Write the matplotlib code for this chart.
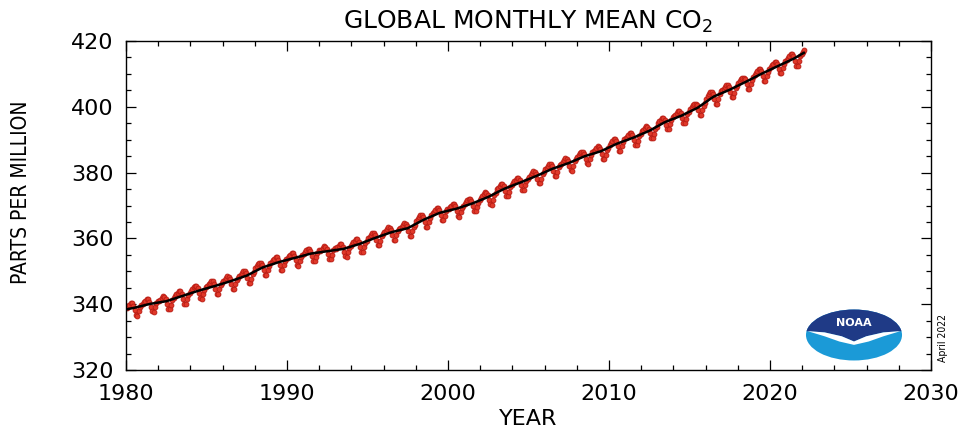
import matplotlib
matplotlib.use("Agg")
import matplotlib.pyplot as plt
import numpy as np
from matplotlib.patches import Ellipse, Polygon
from matplotlib.ticker import MultipleLocator

plt.rcParams['font.family'] = ['DejaVu Sans']

# Global monthly mean CO2 (ppm), starting January 1980
start_year = 1980
co2_monthly = [
    338.9, 339.4, 339.9, 340.4, 340.3, 339.6, 338.1, 336.6, 336.5, 337.9, 339.2, 339.9,  # 1980
    340.1, 340.6, 341.1, 341.6, 341.5, 340.8, 339.3, 337.8, 337.7, 339.1, 340.4, 341.1,  # 1981
    340.9, 341.4, 341.9, 342.4, 342.3, 341.6, 340.1, 338.6, 338.5, 339.9, 341.2, 341.9,  # 1982
    342.5, 343.0, 343.5, 344.0, 343.9, 343.2, 341.7, 340.2, 340.1, 341.5, 342.8, 343.5,  # 1983
    344.1, 344.6, 345.1, 345.6, 345.5, 344.8, 343.3, 341.8, 341.7, 343.1, 344.4, 345.1,  # 1984
    345.5, 346.0, 346.5, 347.0, 346.9, 346.2, 344.7, 343.2, 343.1, 344.5, 345.8, 346.5,  # 1985
    347.0, 347.5, 348.0, 348.5, 348.4, 347.7, 346.2, 344.7, 344.6, 346.0, 347.3, 348.0,  # 1986
    348.5, 349.0, 349.6, 350.1, 350.0, 349.4, 347.9, 346.5, 346.4, 347.8, 349.2, 349.9,  # 1987
    351.0, 351.5, 352.1, 352.6, 352.5, 351.9, 350.4, 349.0, 348.9, 350.3, 351.7, 352.4,  # 1988
    352.8, 353.3, 353.8, 354.3, 354.2, 353.5, 352.0, 350.5, 350.4, 351.8, 353.1, 353.8,  # 1989
    354.1, 354.6, 355.1, 355.6, 355.5, 354.8, 353.3, 351.8, 351.7, 353.1, 354.4, 355.1,  # 1990
    355.4, 355.9, 356.4, 356.9, 356.8, 356.1, 354.6, 353.1, 353.0, 354.4, 355.7, 356.4,  # 1991
    356.1, 356.6, 357.1, 357.6, 357.5, 356.8, 355.3, 353.8, 353.7, 355.1, 356.4, 357.1,  # 1992
    356.8, 357.3, 357.8, 358.3, 358.2, 357.5, 356.0, 354.5, 354.4, 355.8, 357.1, 357.8,  # 1993
    358.3, 358.8, 359.3, 359.8, 359.7, 359.0, 357.5, 356.0, 355.9, 357.3, 358.6, 359.3,  # 1994
    360.0, 360.5, 361.1, 361.6, 361.5, 360.9, 359.4, 358.0, 357.9, 359.3, 360.7, 361.4,  # 1995
    361.9, 362.4, 362.9, 363.4, 363.3, 362.6, 361.1, 359.6, 359.5, 360.9, 362.2, 362.9,  # 1996
    363.1, 363.6, 364.1, 364.6, 364.5, 363.8, 362.3, 360.8, 360.7, 362.1, 363.4, 364.1,  # 1997
    365.3, 365.9, 366.4, 367.0, 367.0, 366.4, 364.9, 363.5, 363.5, 365.0, 366.3, 367.1,  # 1998
    367.6, 368.1, 368.7, 369.2, 369.1, 368.5, 367.0, 365.6, 365.5, 366.9, 368.3, 369.0,  # 1999
    369.0, 369.5, 370.0, 370.5, 370.4, 369.7, 368.2, 366.7, 366.6, 368.0, 369.3, 370.0,  # 2000
    370.6, 371.1, 371.6, 372.1, 372.0, 371.3, 369.8, 368.3, 368.2, 369.6, 370.9, 371.6,  # 2001
    372.4, 372.9, 373.5, 374.0, 373.9, 373.3, 371.8, 370.4, 370.3, 371.7, 373.1, 373.8,  # 2002
    374.9, 375.4, 376.0, 376.5, 376.4, 375.8, 374.3, 372.9, 372.8, 374.2, 375.6, 376.3,  # 2003
    376.8, 377.3, 377.9, 378.4, 378.3, 377.7, 376.2, 374.8, 374.7, 376.1, 377.5, 378.2,  # 2004
    378.8, 379.3, 379.9, 380.4, 380.3, 379.7, 378.2, 376.8, 376.7, 378.1, 379.5, 380.2,  # 2005
    381.0, 381.5, 382.1, 382.6, 382.5, 381.9, 380.4, 379.0, 378.9, 380.3, 381.7, 382.4,  # 2006
    382.7, 383.2, 383.8, 384.3, 384.2, 383.6, 382.1, 380.7, 380.6, 382.0, 383.4, 384.1,  # 2007
    384.8, 385.3, 385.9, 386.4, 386.3, 385.7, 384.2, 382.8, 382.7, 384.1, 385.5, 386.2,  # 2008
    386.5, 387.0, 387.5, 388.0, 387.9, 387.2, 385.7, 384.2, 384.1, 385.5, 386.8, 387.5,  # 2009
    388.4, 389.0, 389.5, 390.1, 390.1, 389.5, 388.0, 386.6, 386.6, 388.1, 389.4, 390.2,  # 2010
    390.4, 390.9, 391.5, 392.0, 391.9, 391.3, 389.8, 388.4, 388.3, 389.7, 391.1, 391.8,  # 2011
    392.5, 393.0, 393.6, 394.1, 394.0, 393.4, 391.9, 390.5, 390.4, 391.8, 393.2, 393.9,  # 2012
    395.0, 395.6, 396.1, 396.7, 396.7, 396.1, 394.6, 393.2, 393.2, 394.7, 396.0, 396.8,  # 2013
    397.1, 397.6, 398.2, 398.7, 398.6, 398.0, 396.5, 395.1, 395.0, 396.4, 397.8, 398.5,  # 2014
    399.3, 399.9, 400.4, 401.0, 401.0, 400.4, 398.9, 397.5, 397.5, 399.0, 400.3, 401.1,  # 2015
    402.5, 403.2, 403.8, 404.4, 404.4, 403.8, 402.3, 400.9, 401.0, 402.5, 403.9, 404.7,  # 2016
    405.0, 405.5, 406.1, 406.6, 406.5, 405.9, 404.4, 403.0, 402.9, 404.3, 405.7, 406.4,  # 2017
    407.2, 407.8, 408.3, 408.9, 408.9, 408.3, 406.8, 405.4, 405.4, 406.9, 408.2, 409.0,  # 2018
    409.7, 410.3, 410.8, 411.4, 411.4, 410.8, 409.3, 407.9, 407.9, 409.4, 410.7, 411.5,  # 2019
    412.0, 412.6, 413.1, 413.7, 413.7, 413.1, 411.6, 410.2, 410.2, 411.7, 413.0, 413.8,  # 2020
    414.3, 414.9, 415.4, 416.0, 416.0, 415.4, 413.9, 412.5, 412.5, 414.0, 415.3, 416.1,  # 2021
    416.6, 417.2,                                                                        # 2022
]

# Seasonally corrected trend (ppm)
trend_years = [1980.0, 1980.5, 1981.5, 1982.5, 1983.5, 1984.5, 1985.5, 1986.5, 1987.5, 1988.5,
               1989.5, 1990.5, 1991.5, 1992.5, 1993.5, 1994.5, 1995.5, 1996.5, 1997.5, 1998.5,
               1999.5, 2000.5, 2001.5, 2002.5, 2003.5, 2004.5, 2005.5, 2006.5, 2007.5, 2008.5,
               2009.5, 2010.5, 2011.5, 2012.5, 2013.5, 2014.5, 2015.5, 2016.5, 2017.5, 2018.5,
               2019.5, 2020.5, 2021.5, 2022.1]
trend_values = [338.4, 338.9, 340.1, 340.9, 342.5, 344.1, 345.5, 347.0, 348.7, 351.2,
                352.8, 354.1, 355.4, 356.1, 356.8, 358.3, 360.2, 361.9, 363.1, 365.7,
                367.8, 369.0, 370.6, 372.6, 375.1, 377.0, 379.0, 381.2, 382.9, 385.0,
                386.5, 388.8, 390.6, 392.7, 395.4, 397.3, 399.7, 403.1, 405.2, 407.6,
                410.1, 412.4, 414.7, 416.4]

x_ticks = [1980, 1990, 2000, 2010, 2020, 2030]
y_ticks = [320, 340, 360, 380, 400, 420]

months = start_year + (np.arange(len(co2_monthly)) + 0.5) / 12.0

fig = plt.figure(figsize=(9.64, 4.29), dpi=100)
ax = fig.add_axes([126 / 964, (429 - 370) / 429, 805 / 964, 329 / 429])

ax.plot(months, co2_monthly, color='#d42a1e', lw=1.0, ls='--', marker='o',
        ms=3.5, mec='#b81a12', mfc='#e0392a', mew=0.6, zorder=2)
ax.plot(trend_years, trend_values, color='black', lw=1.8, zorder=3)

ax.set_xlim(1980, 2030)
ax.set_ylim(320, 420)
ax.set_xticks(x_ticks)
ax.set_yticks(y_ticks)
ax.xaxis.set_minor_locator(MultipleLocator(2))
ax.yaxis.set_minor_locator(MultipleLocator(5))
ax.tick_params(which='both', direction='in', top=True, right=True, width=0.9, colors='black')
ax.tick_params(which='major', length=7, labelsize=16, pad=10)
ax.tick_params(which='minor', length=3.5)
ax.tick_params(axis='y', which='major', pad=9)
for sp in ax.spines.values():
    sp.set_linewidth(1.0)

ax.set_xlabel('YEAR', fontsize=16, labelpad=4)
ax.set_ylabel('PARTS PER MILLION', fontsize=15,
              family=['Liberation Sans Narrow', 'DejaVu Sans'], fontstretch='condensed')
ax.yaxis.set_label_coords((31 - 126) / 805, (370 - 192) / 329)
ax.set_title('GLOBAL MONTHLY MEAN CO$_2$', fontsize=18, pad=9)

fig.text(943 / 964, (429 - 338) / 429, 'April 2022', rotation=90, fontsize=7.5,
         ha='center', va='center', family=['Liberation Sans Narrow', 'DejaVu Sans'],
         fontstretch='condensed')

# NOAA logo
lax = fig.add_axes([805 / 964, (429 - 361) / 429, 98 / 964, 52 / 429])
lax.set_xlim(-1, 1)
lax.set_ylim(-1, 1)
lax.axis('off')
ell = Ellipse((0, 0), 1.96, 1.96, facecolor='#1b9ad7', edgecolor='none')
lax.add_patch(ell)
top = Polygon([(-1, 1), (1, 1), (1, 0.15), (0.6, 0.1), (0.25, -0.05), (0.0, -0.25),
               (-0.25, -0.05), (-0.6, 0.1), (-1, 0.15)], closed=True,
              facecolor='#1f3a86', edgecolor='none')
lax.add_patch(top)
top.set_clip_path(ell)
wave = Polygon([(-0.95, 0.15), (-0.6, 0.1), (-0.25, -0.05), (0.0, -0.25), (0.25, -0.05),
                (0.6, 0.1), (0.95, 0.15), (0.6, -0.05), (0.3, -0.25), (0.0, -0.38),
                (-0.3, -0.25), (-0.6, -0.05)], closed=True,
               facecolor='white', edgecolor='none')
lax.add_patch(wave)
wave.set_clip_path(ell)
lax.text(0, 0.45, 'NOAA', color='white', fontsize=8, fontweight='bold',
         ha='center', va='center')

fig.savefig('out.png', dpi=100)
